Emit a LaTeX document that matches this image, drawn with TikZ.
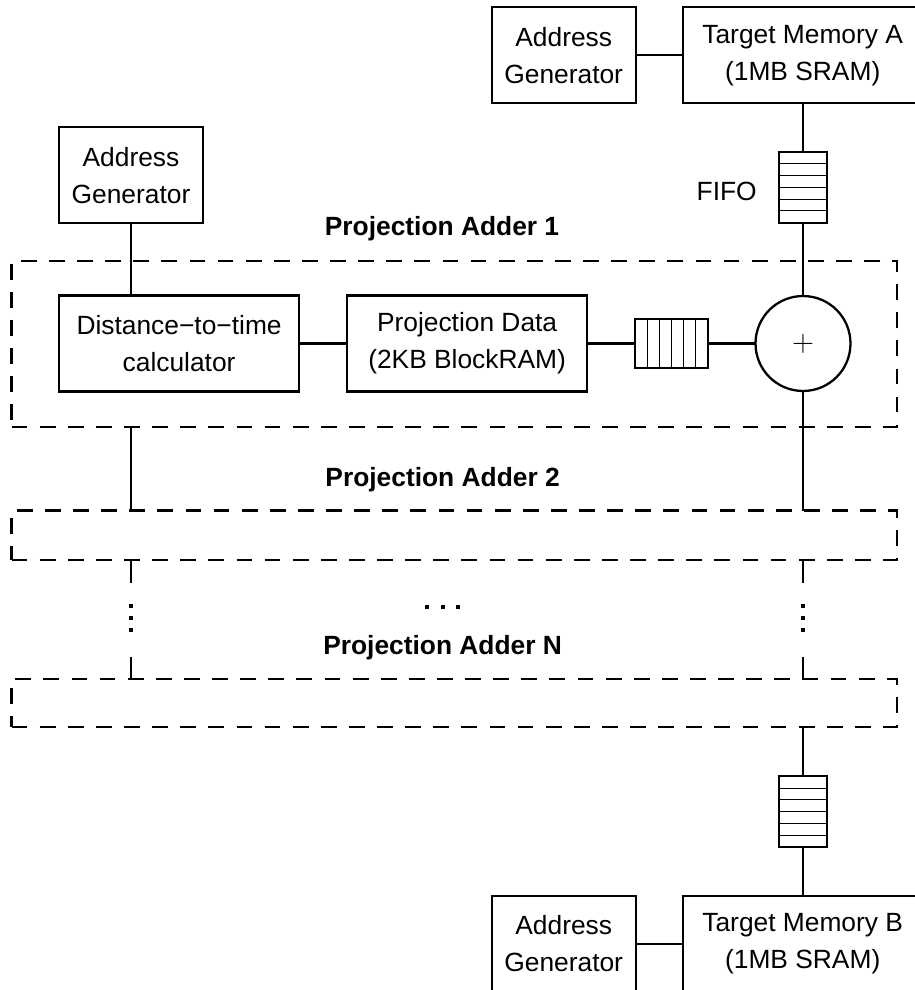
\documentclass[tikz,border=0pt]{standalone}
\usepackage{fontspec}
\setmainfont{Liberation Sans}
\usetikzlibrary{shapes,arrows}
\usetikzlibrary{calc}

\begin{document}
\begin{tikzpicture}[x=0.02cm,y=-0.02cm]

\tikzstyle{block} = [draw,inner sep=0,outer sep=0,minimum height=1.92cm,line width=1.3pt,
align=center, font=\fontsize{15}{21}\selectfont]
\tikzstyle{fifo_v} = [draw,inner sep=0,outer sep=0,minimum width=0.97cm,minimum height=1.42cm,line width=1.3pt]
\tikzstyle{fifo_h} = [draw,inner sep=0,outer sep=0,minimum width=1.46cm,minimum height=0.98cm,line width=1.3pt]
\tikzstyle{adder} = [draw,circle,inner sep=0,outer sep=0,minimum size=1.9cm,line width=1.3pt,
font=\fontsize{17}{17}\selectfont]
\tikzstyle{pa_box} = [draw,inner sep=0,outer sep=0,minimum width=17.71cm,line width=1.3pt,
dash pattern=on 9pt off 7pt]
\tikzstyle{pa_title} = [font=\fontsize{15}{21}\selectfont\bfseries]
\tikzstyle{wire} = [line width=1.3pt]

\useasboundingbox (0,0) rectangle (914,990);

% target memory A
\node [block, minimum width=2.88cm] (agA) at (563.7,55.3) {Address\\Generator};
\node [block, minimum width=4.8cm] (memA) at (802.7,55.3) {Target Memory A\\(1MB SRAM)};
\node [fifo_v] (fifoA) at (803,187.2) {};
\node [font=\fontsize{15}{21}\selectfont] (fifoLbl) at (726.7,191.7) {FIFO};

% projection adder 1
\node [block, minimum width=2.88cm] (agL) at (131,175.3) {Address\\Generator};
\node [pa_box, minimum height=3.32cm] (pa1) at (454.3,343.7) {};
\node [pa_title] (pa1t) at (442,228.3) {Projection Adder 1};
\node [block, minimum width=4.8cm] (dist) at (179.1,343.5) {Distance−to−time\\calculator};
\node [block, minimum width=4.8cm] (pdata) at (467.1,343.5) {Projection Data\\(2KB BlockRAM)};
\node [fifo_h] (fifo1) at (671.3,343.5) {};
\node [adder] (sum) at (803,343.5) {$+$};

% projection adder 2 .. N
\node [pa_box, minimum height=0.99cm] (pa2) at (454.3,535.35) {};
\node [pa_title] (pa2t) at (442.6,479.3) {Projection Adder 2};
\node [pa_box, minimum height=0.96cm] (paN) at (454.3,703.3) {};
\node [pa_title] (paNt) at (442.6,647.7) {Projection Adder N};

% target memory B
\node [fifo_v] (fifoB) at (803,811.7) {};
\node [block, minimum width=2.88cm] (agB) at (563.7,943.7) {Address\\Generator};
\node [block, minimum width=4.8cm] (memB) at (802.7,943.7) {Target Memory B\\(1MB SRAM)};

% fifo slots
\foreach \f in {fifoA,fifoB}
  \foreach \i in {1,...,5}
    \draw[line width=0.5pt] ($(\f.north west)!\i/6!(\f.south west)$) -- ($(\f.north east)!\i/6!(\f.south east)$);
\foreach \i in {1,...,5}
  \draw[line width=0.5pt] ($(fifo1.north west)!\i/6!(fifo1.north east)$) -- ($(fifo1.south west)!\i/6!(fifo1.south east)$);

% wires
\draw[wire] (agA) -- (memA);
\draw[wire] (memA.south -| fifoA) -- (fifoA.north);
\draw[wire] (fifoA.south) -- (sum.north);
\draw[wire] (agL.south) -- (agL.south |- dist.north);
\draw[wire] (dist) -- (pdata);
\draw[wire] (pdata) -- (fifo1);
\draw[wire] (fifo1) -- (sum);
\draw[wire] (sum.south) -- (sum.south |- pa2.north);
\draw[wire] (agL.south |- pa1.south) -- (agL.south |- pa2.north);
\draw[wire] (sum.south |- paN.south) -- (fifoB.north);
\draw[wire] (fifoB.south) -- (memB.north -| fifoB);
\draw[wire] (agB) -- (memB);

% dotted gap between adder 2 and adder N
\foreach \x in {131,803} {
  \coordinate (gTop) at (\x,583.3);
  \coordinate (gBot) at (\x,656.7);
  \draw[wire] (\x,560) -- (gTop);
  \draw[wire] (gBot) -- (\x,679.3);
  \foreach \y in {605.7,617.7,629.7}
    \fill (\x-2,\y-2) rectangle (\x+2,\y+2);
}
\foreach \x in {427,442.6,458.2}
  \fill (\x-2,604.7) rectangle (\x+2,608.7);

\end{tikzpicture}
\end{document}
